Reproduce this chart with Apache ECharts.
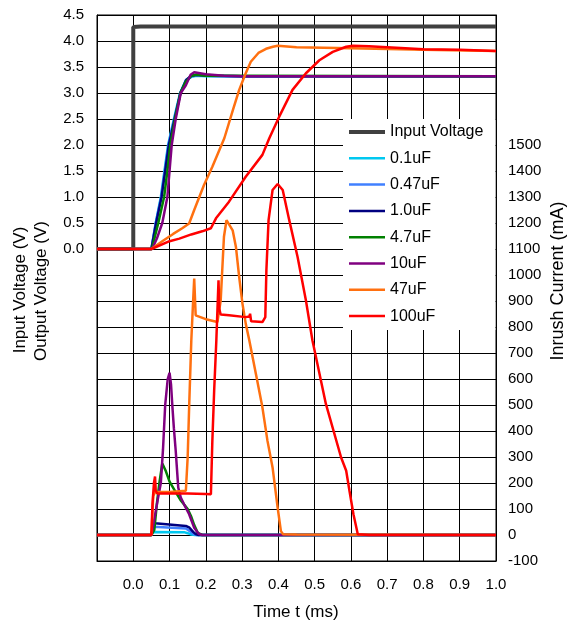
<!DOCTYPE html>
<html><head><meta charset="utf-8">
<script src="https://cdn.jsdelivr.net/npm/echarts@6/dist/echarts.min.js"></script>
<style>html,body{margin:0;padding:0;background:#fff}#c{width:580px;height:628px}</style>
</head><body><div id="c"></div>
<script>
// ---------- DATA ----------
const legendNames = ['Input Voltage','0.1uF','0.47uF','1.0uF','4.7uF','10uF','47uF','100uF'];
const xTicks = [-0.1,0,0.1,0.2,0.3,0.4,0.5,0.6,0.7,0.8,0.9,1.0];

// Input voltage (V)
const tVin = [-0.1, 0.0, 0.0, 0.02, 0.2, 0.4, 0.6, 0.8, 1.0];
const vVin = [0, 0, 4.27, 4.28, 4.28, 4.28, 4.28, 4.28, 4.28];

// Output voltages (V)
const tVo01 = [-0.1,0.05,0.062,0.076,0.086,0.096,0.112,0.129,0.145,0.16,0.175,0.2,0.3,1.0];
const vVo01 = [0,0,0.5,1.0,1.5,2.0,2.5,3.0,3.24,3.31,3.33,3.32,3.32,3.32];
const tVo047 = [-0.1,0.05,0.062,0.077,0.087,0.097,0.113,0.13,0.145,0.16,0.175,0.2,0.3,1.0];
const vVo047 = [0,0,0.5,1.0,1.5,2.0,2.5,3.0,3.25,3.32,3.34,3.33,3.32,3.32];
const tVo1 = [-0.1,0.05,0.063,0.078,0.088,0.098,0.114,0.13,0.146,0.16,0.175,0.2,0.3,1.0];
const vVo1 = [0,0,0.5,1.0,1.5,2.0,2.5,3.0,3.25,3.33,3.35,3.33,3.32,3.32];
const tVo47 = [-0.1,0.051,0.069,0.085,0.094,0.102,0.115,0.13,0.145,0.16,0.175,0.2,0.3,1.0];
const vVo47 = [0,0,0.5,1.0,1.5,2.0,2.5,3.0,3.22,3.33,3.35,3.33,3.33,3.32];
const tVo10 = [-0.1,0.052,0.065,0.08,0.094,0.1,0.106,0.117,0.131,0.145,0.158,0.168,0.2,0.25,0.3,1.0];
const vVo10 = [0,0,0.2,0.5,1.0,1.5,2.0,2.5,3.0,3.15,3.35,3.40,3.36,3.33,3.32,3.32];
const tVo470 = [-0.1,0.05,0.08,0.11,0.135,0.154,0.168,0.195,0.218,0.251,0.275,0.292,0.31,0.324,0.345,0.366,0.385,0.398,0.45,0.6,0.8,1.0];
const vVo470 = [0,0,0.15,0.29,0.4,0.49,0.75,1.23,1.58,2.13,2.68,3.06,3.38,3.6,3.77,3.85,3.89,3.91,3.88,3.86,3.83,3.81];
const tVo1000 = [-0.1,0.05,0.1,0.127,0.16,0.19,0.214,0.228,0.264,0.31,0.356,0.375,0.402,0.439,0.476,0.513,0.55,0.587,0.605,0.65,0.7,0.8,0.9,1.0];
const vVo1000 = [0,0,0.15,0.2,0.28,0.34,0.40,0.59,0.91,1.39,1.81,2.13,2.54,3.06,3.38,3.63,3.79,3.89,3.91,3.9,3.88,3.84,3.83,3.81];

// Inrush currents (mA)
const tI01 = [-0.1,0.05,0.055,0.14,0.15,0.16,0.17,1.0];
const iI01 = [0,0,12,11,7,2,0,0];
const tI047 = [-0.1,0.05,0.056,0.06,0.145,0.155,0.165,0.175,1.0];
const iI047 = [0,0,32,27,25,16,5,0,0];
const tI1 = [-0.1,0.05,0.057,0.06,0.065,0.145,0.155,0.165,0.172,0.18,1.0];
const iI1 = [0,0,55,45,38,35,28,12,4,0,0];
const tI47 = [-0.1,0.05,0.058,0.065,0.072,0.08,0.085,0.09,0.1,0.117,0.13,0.15,0.16,0.168,0.178,0.19,1.0];
const iI47 = [0,0,20,120,200,275,270,245,205,165,135,100,70,38,8,0,0];
const tI10 = [-0.1,0.05,0.058,0.068,0.076,0.082,0.088,0.095,0.1,0.104,0.108,0.112,0.117,0.124,0.131,0.14,0.154,0.168,0.18,0.19,1.0];
const iI10 = [0,0,60,140,200,330,500,600,624,580,491,410,324,182,144,118,80,28,5,0,0];
const tI470 = [-0.1,0.05,0.055,0.06,0.1,0.145,0.15,0.154,0.16,0.165,0.168,0.172,0.2,0.232,0.241,0.25,0.257,0.262,0.274,0.283,0.292,0.301,0.31,0.32,0.338,0.356,0.37,0.384,0.398,0.407,0.413,0.45,1.0];
const iI470 = [0,0,150,165,165,170,300,491,748,900,986,845,830,819,902,1147,1211,1217,1172,1108,992,890,813,748,620,491,362,260,105,15,3,2,0];
const tI1000 = [-0.1,0.05,0.053,0.057,0.06,0.062,0.066,0.1,0.15,0.2,0.214,0.218,0.223,0.229,0.235,0.237,0.241,0.264,0.31,0.32,0.322,0.325,0.356,0.364,0.367,0.373,0.384,0.398,0.412,0.43,0.453,0.476,0.494,0.531,0.573,0.587,0.596,0.607,0.619,0.65,1.0];
const iI1000 = [0,0,120,200,225,170,160,160,160,158,157,362,555,748,980,870,848,845,838,840,851,822,819,838,1018,1211,1327,1350,1327,1211,1069,902,748,504,298,247,170,80,3,0,0];

// ---------- STYLE ----------
const colors = {
  'Input Voltage':'#404040','0.1uF':'#00c8f0','0.47uF':'#4080ff','1.0uF':'#000080',
  '4.7uF':'#008000','10uF':'#800080','47uF':'#ff7010','100uF':'#ff0000'
};
const FONT = '"Liberation Sans", Arial, sans-serif';
const ICON_THIN = 'path://M0,0 M0,6.75h36v2.5h-36z M36,16';
const ICON_THICK = 'path://M0,0 M0,6h36v4h-36z M36,16';

function zip(ts, vs){ return ts.map((t,i)=>[t, vs[i]]); }
function mk(name, ts, vs, axis, width){
  return {type:'line', name, yAxisIndex:axis, data:zip(ts,vs), symbol:'none', showSymbol:false,
    lineStyle:{color:colors[name], width:width||2.5}, itemStyle:{color:colors[name]}, animation:false, z:2};
}

const series = [
  mk('Input Voltage', tVin, vVin, 0, 4),
  mk('0.1uF', tVo01, vVo01, 0), mk('0.1uF', tI01, iI01, 1),
  mk('0.47uF', tVo047, vVo047, 0), mk('0.47uF', tI047, iI047, 1),
  mk('1.0uF', tVo1, vVo1, 0), mk('1.0uF', tI1, iI1, 1),
  mk('4.7uF', tVo47, vVo47, 0), mk('4.7uF', tI47, iI47, 1),
  mk('10uF', tVo10, vVo10, 0), mk('10uF', tI10, iI10, 1),
  mk('47uF', tVo470, vVo470, 0), mk('47uF', tI470, iI470, 1),
  mk('100uF', tVo1000, vVo1000, 0), mk('100uF', tI1000, iI1000, 1)
];

const chart = echarts.init(document.getElementById('c'), null, {renderer:'canvas'});
chart.setOption({
  animation:false,
  backgroundColor:'#fff',
  grid:{left:97, top:15, width:399, height:546, show:true, borderColor:'#000', borderWidth:1, containLabel:false},
  xAxis:{type:'value', min:xTicks[0], max:xTicks[xTicks.length-1], interval:0.1,
    axisLine:{show:true, onZero:false, lineStyle:{color:'#000', width:1}},
    axisTick:{show:false},
    splitLine:{show:true, lineStyle:{color:'#000', width:1}},
    axisLabel:{margin:16, color:'#000', fontSize:15, fontFamily:FONT,
      formatter:v=> v < -0.05 ? '' : v.toFixed(1)}},
  yAxis:[
    {type:'value', min:-6, max:4.5, interval:0.5, position:'left',
      axisLine:{show:true, onZero:false, lineStyle:{color:'#000'}},
      axisTick:{show:false},
      splitLine:{show:true, lineStyle:{color:'#000', width:1}},
      axisLabel:{margin:13, color:'#000', fontSize:15, fontFamily:FONT,
        formatter:v=> v < -0.01 ? '' : v.toFixed(1)}},
    {type:'value', min:-100, max:2000, interval:100, position:'right',
      axisLine:{show:true, onZero:false, lineStyle:{color:'#000'}},
      axisTick:{show:false},
      splitLine:{show:false},
      axisLabel:{margin:12, color:'#000', fontSize:15, fontFamily:FONT,
        formatter:v=> v > 1500 ? '' : String(v)}}
  ],
  legend:{orient:'vertical', left:343, top:119,
    data: legendNames.map((n,i)=>({name:n, icon: i===0 ? ICON_THICK : ICON_THIN})),
    backgroundColor:'#fff', padding:[5,12,6,6], itemWidth:36, itemHeight:16, itemGap:10.3,
    textStyle:{color:'#000', fontSize:16, fontFamily:FONT}, selectedMode:false},
  graphic:[
    {type:'text', x:20, y:290, rotation:Math.PI/2, style:{text:'Input Voltage (V)', font:'17px '+FONT, fill:'#000', align:'center', verticalAlign:'middle'}},
    {type:'text', x:41, y:291, rotation:Math.PI/2, style:{text:'Output Voltage (V)', font:'17px '+FONT, fill:'#000', align:'center', verticalAlign:'middle'}},
    {type:'text', x:558, y:281, rotation:Math.PI/2, style:{text:'Inrush Current (mA)', font:'18px '+FONT, fill:'#000', align:'center', verticalAlign:'middle'}},
    {type:'text', x:296, y:612, style:{text:'Time t (ms)', font:'17px '+FONT, fill:'#000', align:'center', verticalAlign:'middle'}}
  ],
  series
});
</script></body></html>
